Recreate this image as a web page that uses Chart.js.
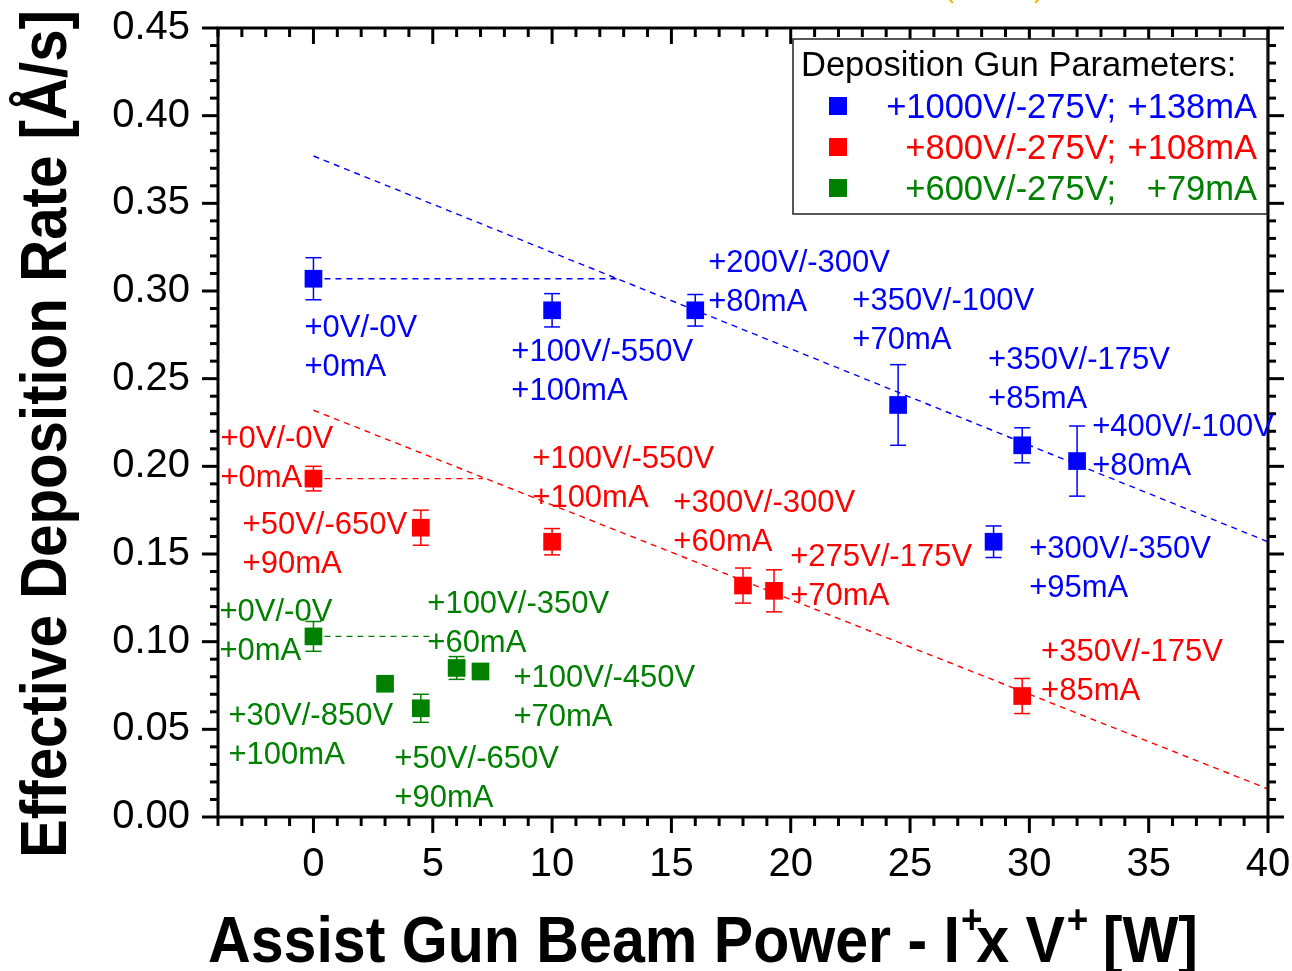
<!DOCTYPE html>
<html>
<head>
<meta charset="utf-8">
<script src="https://cdn.jsdelivr.net/npm/chart.js@4.4.0/dist/chart.umd.min.js"></script>
<style>
  html, body { margin: 0; padding: 0; background: #fff; }
</style>
</head>
<body>
<canvas id="myChart" width="1292" height="971"></canvas>
<script>
// assist gun beam power [W] vs effective deposition rate [Å/s] (+ error)
const blueX   = [0, 10, 16, 24.5, 29.7, 32, 28.5];
const blueY   = [0.307, 0.289, 0.289, 0.235, 0.212, 0.203, 0.157];
const blueErr = [0.012, 0.0095, 0.009, 0.023, 0.01, 0.02, 0.009];

const redX   = [0, 4.5, 10, 18, 19.3, 29.7];
const redY   = [0.193, 0.165, 0.157, 0.132, 0.129, 0.069];
const redErr = [0.007, 0.01, 0.0075, 0.01, 0.012, 0.01];

const greenX   = [0, 3, 4.5, 6, 7];
const greenY   = [0.103, 0.076, 0.062, 0.085, 0.083];
const greenErr = [0.0085, 0, 0.008, 0.0065, 0];

// linear trends and zero-power reference levels
const blueFitX = [0, 40],   blueFitY = [0.377, 0.157];
const redFitX  = [0, 40],   redFitY  = [0.232, 0.016];
const blueRefX = [0, 12.7], blueRefY = [0.307, 0.307];
const redRefX  = [0, 7.1],  redRefY  = [0.193, 0.193];
const greenRefX = [0, 5.0], greenRefY = [0.103, 0.103];

// assist gun settings written beside each point
const blueNotes = [
  ['+0V/-0V', '+0mA'], ['+100V/-550V', '+100mA'], ['+200V/-300V', '+80mA'],
  ['+350V/-100V', '+70mA'], ['+350V/-175V', '+85mA'], ['+400V/-100V', '+80mA'],
  ['+300V/-350V', '+95mA']
];
const redNotes = [
  ['+0V/-0V', '+0mA'], ['+50V/-650V', '+90mA'], ['+100V/-550V', '+100mA'],
  ['+300V/-300V', '+60mA'], ['+275V/-175V', '+70mA'], ['+350V/-175V', '+85mA']
];
const greenNotes = [
  ['+0V/-0V', '+0mA'], ['+100V/-350V', '+60mA'], ['+100V/-450V', '+70mA'],
  ['+30V/-850V', '+100mA'], ['+50V/-650V', '+90mA']
];

const xTickValues = [0, 5, 10, 15, 20, 25, 30, 35, 40];
const yTickValues = [0, 0.05, 0.10, 0.15, 0.20, 0.25, 0.30, 0.35, 0.40, 0.45];

const seriesNames = [
  ['+1000V/-275V;', '+138mA'],
  ['+800V/-275V;', '+108mA'],
  ['+600V/-275V;', '+79mA']
];

const BLUE = '#0000ff', RED = '#ff0000', GREEN = '#008000';
const FONT = '"Liberation Sans", Arial, sans-serif';

// where each note block starts (left edge, middle of first line), in axis units
const noteAt = {
  blue:  [[-0.38, 0.280], [8.29, 0.266], [16.54, 0.317], [22.58, 0.2954], [28.27, 0.2618], [32.63, 0.2236], [29.99, 0.154]],
  red:   [[-3.9, 0.2167], [-2.97, 0.1677], [9.17, 0.2053], [15.08, 0.180], [19.98, 0.1489], [30.49, 0.0952]],
  green: [[-3.94, 0.118], [4.77, 0.1226], [8.38, 0.0804], [-3.56, 0.0587], [3.39, 0.0342]]
};

const pts = (xs, ys) => xs.map((x, i) => ({ x: x, y: ys[i] }));

function pointSet(label, xs, ys, errs, color) {
  return {
    label: label, data: pts(xs, ys), errs: errs, order: 1,
    pointStyle: 'rect', pointRadius: 12.5, pointHoverRadius: 12.5,
    backgroundColor: color, borderWidth: 0, showLine: false
  };
}
function dashSet(xs, ys, color) {
  return {
    type: 'line', data: pts(xs, ys), order: 2,
    borderColor: color, borderWidth: 1.4, borderDash: [6, 5],
    pointRadius: 0, fill: false
  };
}

function line(ctx, x1, y1, x2, y2) {
  ctx.beginPath(); ctx.moveTo(x1, y1); ctx.lineTo(x2, y2); ctx.stroke();
}

const decor = {
  id: 'decor',
  beforeDatasetsDraw(chart) {
    const ctx = chart.ctx, sx = chart.scales.x, sy = chart.scales.y;
    ctx.save();
    ctx.lineWidth = 1.5;
    chart.data.datasets.forEach(ds => {
      if (!ds.errs) return;
      ctx.strokeStyle = ds.backgroundColor;
      ds.data.forEach((p, i) => {
        const e = ds.errs[i];
        if (!e) return;
        const px = sx.getPixelForValue(p.x);
        const top = sy.getPixelForValue(p.y + e), bot = sy.getPixelForValue(p.y - e);
        line(ctx, px, top, px, bot);
        line(ctx, px - 8, top, px + 8, top);
        line(ctx, px - 8, bot, px + 8, bot);
      });
    });
    ctx.restore();
  },
  afterDraw(chart) {
    const ctx = chart.ctx, sx = chart.scales.x, sy = chart.scales.y, a = chart.chartArea;
    ctx.save();

    // frame with minor/major ticks
    ctx.strokeStyle = '#000';
    ctx.lineWidth = 3;
    ctx.strokeRect(a.left, a.top, a.right - a.left, a.bottom - a.top);
    for (let v = -4; v <= 40; v++) {
      const px = sx.getPixelForValue(v);
      const len = xTickValues.includes(v) ? 16 : 9;
      line(ctx, px, a.bottom, px, a.bottom + len);
      line(ctx, px, a.top, px, a.top + len);
    }
    for (let k = 0; k <= 45; k++) {
      const py = sy.getPixelForValue(k / 100);
      const len = k % 5 === 0 ? 16 : 8;
      line(ctx, a.left - len, py, a.left, py);
      line(ctx, a.right, py, a.right + len, py);
    }

    // point notes
    ctx.font = '31px ' + FONT;
    ctx.textAlign = 'left';
    ctx.textBaseline = 'middle';
    [[blueNotes, noteAt.blue, BLUE], [redNotes, noteAt.red, RED], [greenNotes, noteAt.green, GREEN]]
      .forEach(([notes, at, color]) => {
        ctx.fillStyle = color;
        notes.forEach((lines, i) => {
          const px = sx.getPixelForValue(at[i][0]), py = sy.getPixelForValue(at[i][1]) + 2;
          lines.forEach((t, j) => ctx.fillText(t, px, py + j * 39));
        });
      });

    // legend box
    ctx.fillStyle = '#fff';
    ctx.fillRect(793, 39, 474, 175);
    ctx.lineWidth = 1.5;
    ctx.strokeStyle = '#222';
    ctx.strokeRect(793, 39, 474, 175);
    ctx.fillStyle = '#000';
    ctx.font = '34.5px ' + FONT;
    ctx.textBaseline = 'alphabetic';
    ctx.fillText('Deposition Gun Parameters:', 801, 76);
    ctx.font = '34.5px ' + FONT;
    [BLUE, RED, GREEN].forEach((c, i) => {
      const base = 118 + i * 41;
      ctx.fillStyle = c;
      ctx.fillRect(829, base - 21, 18, 18);
      ctx.textAlign = 'right';
      ctx.fillText(seriesNames[i][0], 1116, base);
      ctx.fillText(seriesNames[i][1], 1257, base);
    });

    // axis titles
    ctx.fillStyle = '#000';
    ctx.textAlign = 'left';
    ctx.textBaseline = 'alphabetic';
    const big = 'bold 64px ' + FONT, sup = 'bold 40px ' + FONT;
    // [text, font, rise, advance factor, x shift]
    const parts = [
      ['Assist Gun Beam Power - I', big, 0, 1, 0],
      ['+', sup, -29, 0.75, 1],
      ['x V', big, 0, 1, 0],
      ['+', sup, -29, 1, 2],
      [' [W]', big, 0, 1, 0]
    ];
    let w = 0;
    parts.forEach(p => { ctx.font = p[1]; w += ctx.measureText(p[0]).width * p[3]; });
    ctx.save();
    ctx.translate(208, 962);
    ctx.scale(990 / w, 1);
    let cx = 0;
    parts.forEach(p => {
      ctx.font = p[1];
      ctx.fillText(p[0], cx + p[4], p[2]);
      cx += ctx.measureText(p[0]).width * p[3];
    });
    ctx.restore();

    const yTitle = 'Effective Deposition Rate [Å/s]';
    ctx.save();
    ctx.font = 'bold 64px ' + FONT;
    const yw = ctx.measureText(yTitle).width;
    ctx.translate(66, 858);
    ctx.rotate(-Math.PI / 2);
    ctx.scale(848 / yw, 1);
    ctx.fillText(yTitle, 0, 0);
    ctx.restore();

    // clipped heading above the frame
    ctx.fillStyle = '#f5b000';
    ctx.font = '30px ' + FONT;
    ctx.fillText('(', 944, -3);
    ctx.fillText(')', 1034, -3);

    ctx.restore();
  }
};

new Chart(document.getElementById('myChart'), {
  type: 'scatter',
  data: {
    datasets: [
      pointSet('+1000V/-275V; +138mA', blueX, blueY, blueErr, BLUE),
      pointSet('+800V/-275V; +108mA', redX, redY, redErr, RED),
      pointSet('+600V/-275V; +79mA', greenX, greenY, greenErr, GREEN),
      dashSet(blueFitX, blueFitY, BLUE),
      dashSet(redFitX, redFitY, RED),
      dashSet(blueRefX, blueRefY, BLUE),
      dashSet(redRefX, redRefY, RED),
      dashSet(greenRefX, greenRefY, GREEN)
    ]
  },
  options: {
    responsive: false,
    animation: false,
    layout: { padding: { top: 28, right: 24, left: 0, bottom: 0 } },
    plugins: { legend: { display: false }, tooltip: { enabled: false } },
    scales: {
      x: {
        type: 'linear', min: -4, max: 40,
        grid: { display: false, drawTicks: false },
        border: { display: false },
        ticks: { font: { family: FONT, size: 40 }, color: '#000', padding: 24, maxRotation: 0, autoSkip: false },
        afterBuildTicks: s => { s.ticks = xTickValues.map(v => ({ value: v })); },
        afterFit: s => { s.height = 154; s.paddingLeft = 0; s.paddingRight = 0; }
      },
      y: {
        type: 'linear', min: 0, max: 0.45,
        grid: { display: false, drawTicks: false },
        border: { display: false },
        ticks: { font: { family: FONT, size: 40 }, color: '#000', padding: 28, autoSkip: false,
                 callback: v => v.toFixed(2) },
        afterBuildTicks: s => { s.ticks = yTickValues.map(v => ({ value: v })); },
        afterFit: s => { s.width = 218; s.paddingTop = 0; s.paddingBottom = 0; }
      }
    }
  },
  plugins: [decor]
});
</script>
</body>
</html>
